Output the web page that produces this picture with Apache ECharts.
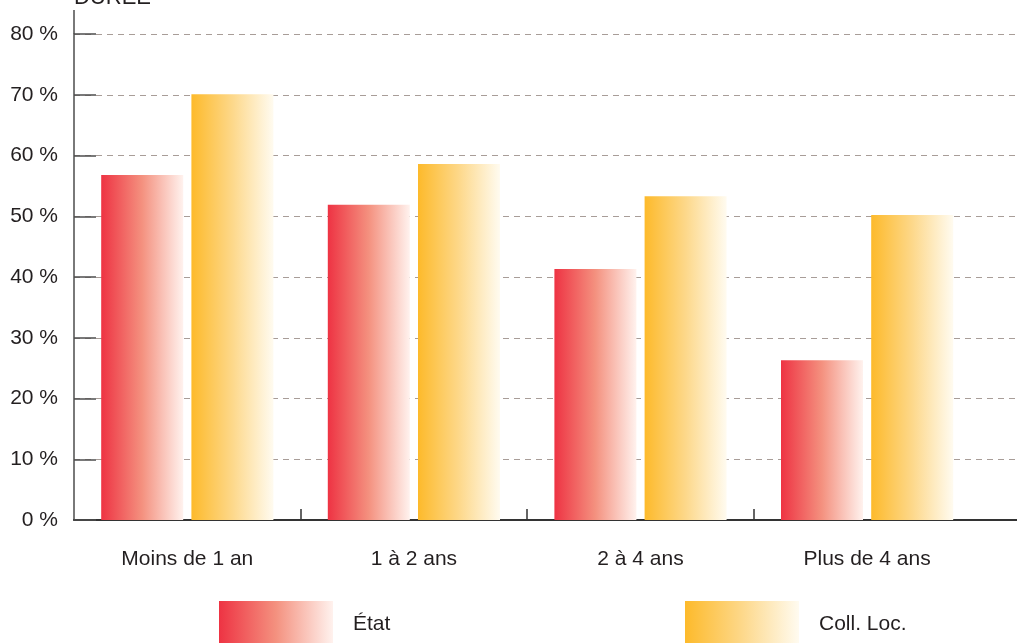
<!DOCTYPE html>
<html>
<head>
<meta charset="utf-8">
<script src="https://cdn.jsdelivr.net/npm/echarts@6/dist/echarts.min.js"></script>
<style>
html,body{margin:0;padding:0;background:#fff;}
#chart{width:1017px;height:643px;}
</style>
</head>
<body>
<div id="chart"></div>
<script>
var categories = ['Moins de 1 an', '1 à 2 ans', '2 à 4 ans', 'Plus de 4 ans'];
var etat = [56.8, 51.9, 41.3, 26.3];
var collLoc = [70.1, 58.6, 53.3, 50.2];
var seriesNames = ['État', 'Coll. Loc.'];
var yMin = 0, yMax = 80, yStep = 10;
var title = 'DURÉE';

var chart = echarts.init(document.getElementById('chart'));
var font = 'Liberation Sans, Arial, sans-serif';
var textColor = '#231f20';

function grad(c0, cm, c1) {
  return new echarts.graphic.LinearGradient(0, 0, 1, 0, [
    {offset: 0, color: c0}, {offset: 0.5, color: cm}, {offset: 1, color: c1}
  ]);
}
var redGrad = grad('#ee3343', '#f4917f', '#fff2ee');
var orangeGrad = grad('#fdba2b', '#fdd88a', '#fffbf0');

chart.setOption({
  animation: false,
  backgroundColor: '#ffffff',
  grid: {left: 74, top: 34, height: 486, width: 1133, containLabel: false, outerBoundsMode: 'none'},
  graphic: [
    {type: 'line', shape: {x1: 74, y1: 10, x2: 74, y2: 34}, style: {stroke: '#4d4d4d', lineWidth: 1.5}, z: 10},
    {type: 'text', left: 74, top: -13, style: {text: title, font: '22px ' + font, fill: textColor}}
  ],
  legend: [
    {data: [seriesNames[0]], left: 219, top: 601, padding: 0, itemWidth: 114, itemHeight: 46, icon: 'rect',
     textStyle: {fontSize: 21, fontFamily: font, color: textColor, padding: [0, 0, 0, 15]}},
    {data: [seriesNames[1]], left: 685, top: 601, padding: 0, itemWidth: 114, itemHeight: 46, icon: 'rect',
     textStyle: {fontSize: 21, fontFamily: font, color: textColor, padding: [0, 0, 0, 15]}}
  ],
  xAxis: {
    type: 'category',
    data: categories.concat(['']),
    boundaryGap: true,
    axisLine: {show: true, lineStyle: {color: '#333333', width: 2}},
    axisTick: {show: true, inside: true, length: 11, lineStyle: {color: '#333333', width: 1.5},
      interval: function (i) { return i >= 1 && i <= 3; }},
    axisLabel: {interval: 0, margin: 29, fontSize: 21, fontFamily: font, color: textColor},
    splitLine: {show: false}
  },
  yAxis: {
    type: 'value',
    min: yMin, max: yMax, interval: yStep,
    axisLine: {show: true, lineStyle: {color: '#4d4d4d', width: 1.5}},
    axisTick: {show: true, inside: true, length: 22, lineStyle: {color: '#4d4d4d', width: 1.5}},
    axisLabel: {formatter: '{value} %', margin: 16, fontSize: 21, fontFamily: font, color: textColor},
    splitLine: {show: true, lineStyle: {color: '#a89d98', width: 1, type: [6, 5]}}
  },
  series: [
    {name: seriesNames[0], type: 'bar', data: etat, barWidth: 82, barGap: '10%',
     itemStyle: {color: redGrad}},
    {name: seriesNames[1], type: 'bar', data: collLoc, barWidth: 82, barGap: '10%',
     itemStyle: {color: orangeGrad}}
  ]
});
</script>
</body>
</html>
